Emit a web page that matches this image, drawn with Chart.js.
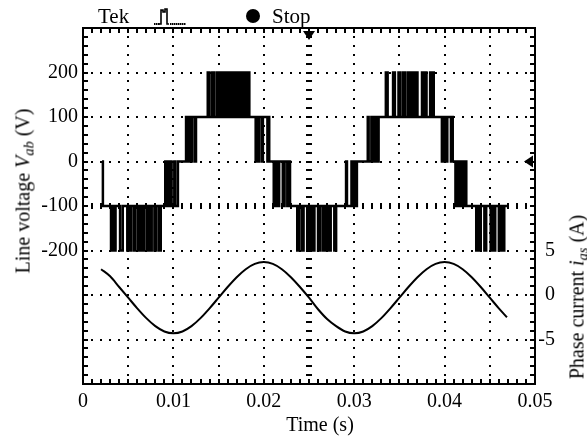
<!DOCTYPE html>
<html>
<head>
<meta charset="utf-8">
<script src="https://cdn.jsdelivr.net/npm/chart.js@4.4.1/dist/chart.umd.min.js"></script>
<style>
  html, body { margin: 0; padding: 0; background: #fff; }
  #wrap { position: relative; width: 587px; height: 445px; font-family: "Liberation Serif", "Times New Roman", serif; color: #000; }
  canvas { position: absolute; left: 0; top: 0; }
  .lbl { position: absolute; font-size: 20px; line-height: 21px; white-space: nowrap; }
  .lbl sub { font-size: 0.72em; vertical-align: -0.3em; line-height: 0; }
  .rot { transform: translate(-50%, -50%) rotate(-90deg); }
  #tek { left: 98px; top: 6px; font-size: 21px; }
  #stop { left: 272px; top: 6px; font-size: 21px; }
  #xtitle { left: 320px; top: 414px; transform: translateX(-50%); }
  #ytitle { left: 23px; top: 191px; }
  #y1title { left: 577px; top: 297px; }
</style>
</head>
<body>
<div id="wrap">
  <canvas id="chart" width="587" height="445"></canvas>
  <div class="lbl" id="tek">Tek</div>
  <div class="lbl" id="stop">Stop</div>
  <div class="lbl" id="xtitle">Time (s)</div>
  <div class="lbl rot" id="ytitle">Line voltage <i>V<sub>ab</sub></i> (V)</div>
  <div class="lbl rot" id="y1title">Phase current <i>i<sub>as</sub></i> (A)</div>
</div>
<script>
// ---------- data ----------
const timeTicks = [0, 0.01, 0.02, 0.03, 0.04, 0.05];
const timeTickLabels = ["0", "0.01", "0.02", "0.03", "0.04", "0.05"];
const voltTicks = [200, 100, 0, -100, -200];
const currTicks = [5, 0, -5];

// line voltage Vab: switching instants (s) and the level (V) held from each one
const switchT = [
  0.0021, 0.0022,
  0.0031, 0.0033, 0.0034, 0.0036, 0.0041, 0.0044, 0.0049, 0.0051, 0.0052, 0.0053,
  0.0056, 0.0058, 0.0061, 0.0063, 0.0064, 0.0066, 0.0067, 0.0068, 0.0071, 0.0073,
  0.0074, 0.0076, 0.0079, 0.0081, 0.0084, 0.0086,
  0.0091, 0.0092, 0.0093, 0.0095, 0.0096, 0.0098, 0.0101, 0.0102, 0.0105,
  0.0114, 0.0115, 0.0116, 0.0118, 0.0119, 0.0120, 0.0121, 0.0124, 0.0125,
  0.0138, 0.0140, 0.0143, 0.0145, 0.0148, 0.0150, 0.0152, 0.0154, 0.0155, 0.0157,
  0.0158, 0.0160, 0.0161, 0.0163, 0.0164, 0.0166, 0.0167, 0.0169, 0.0171, 0.0173,
  0.0175, 0.0177, 0.0179, 0.0181, 0.0183, 0.0184,
  0.0191, 0.0192, 0.0193, 0.0195, 0.0198, 0.0199, 0.0204, 0.0205, 0.0206,
  0.0211, 0.0212, 0.0213, 0.0215, 0.0216, 0.0217, 0.0221, 0.0223, 0.0226, 0.0227, 0.0229,
  0.0237, 0.0239, 0.0242, 0.0244, 0.0248, 0.0250, 0.0251, 0.0253, 0.0254, 0.0256,
  0.0260, 0.0262, 0.0265, 0.0267, 0.0268, 0.0270, 0.0272, 0.0274, 0.0278, 0.0280,
  0.0291, 0.0292, 0.0297, 0.0298, 0.0299, 0.0301, 0.0303,
  0.0315, 0.0316, 0.0319, 0.0320, 0.0321, 0.0323, 0.0324, 0.0326, 0.0327,
  0.0335, 0.0337, 0.0343, 0.0345, 0.0349, 0.0351, 0.0354, 0.0356, 0.0359, 0.0361,
  0.0362, 0.0364, 0.0365, 0.0367, 0.0368, 0.0370, 0.0375, 0.0377, 0.0378, 0.0380,
  0.0384, 0.0385, 0.0386, 0.0388,
  0.0397, 0.0398, 0.0399, 0.0401, 0.0402, 0.0403, 0.0407, 0.0408, 0.0409,
  0.0412, 0.0413, 0.0414, 0.0416, 0.0417, 0.0419, 0.0420, 0.0422, 0.0424,
  0.0435, 0.0437, 0.0438, 0.0440, 0.0444, 0.0446, 0.0451, 0.0453, 0.0454, 0.0456,
  0.0460, 0.0462, 0.0464, 0.0466, 0.0469
];
const switchV = [
  0, -100,
  -200, -100, -200, -100, -200, -100, -200, -100, -200, -100,
  -200, -100, -200, -100, -200, -100, -200, -100, -200, -100,
  -200, -100, -200, -100, -200, -100,
  0, -100, 0, -100, 0, -100, 0, -100, 0,
  100, 0, 100, 0, 100, 0, 100, 0, 100,
  200, 100, 200, 100, 200, 100, 200, 100, 200, 100,
  200, 100, 200, 100, 200, 100, 200, 100, 200, 100,
  200, 100, 200, 100, 200, 100,
  0, 100, 0, 100, 0, 100, 0, 100, 0,
  -100, 0, -100, 0, -100, 0, -100, 0, -100, 0, -100,
  -200, -100, -200, -100, -200, -100, -200, -100, -200, -100,
  -200, -100, -200, -100, -200, -100, -200, -100, -200, -100,
  0, -100, 0, -100, 0, -100, 0,
  100, 0, 100, 0, 100, 0, 100, 0, 100,
  200, 100, 200, 100, 200, 100, 200, 100, 200, 100,
  200, 100, 200, 100, 200, 100, 200, 100, 200, 100,
  200, 100, 200, 100,
  0, 100, 0, 100, 0, 100, 0, 100, 0,
  -100, 0, -100, 0, -100, 0, -100, 0, -100,
  -200, -100, -200, -100, -200, -100, -200, -100, -200, -100,
  -200, -100, -200, -100, -100
];

// phase current ias (A)
const currT = [
  0.002, 0.003, 0.004, 0.005, 0.006, 0.007, 0.008, 0.009, 0.010, 0.011,
  0.012, 0.013, 0.014, 0.015, 0.016, 0.017, 0.018, 0.019, 0.020, 0.021,
  0.022, 0.023, 0.024, 0.025, 0.026, 0.027, 0.028, 0.029, 0.030, 0.031,
  0.032, 0.033, 0.034, 0.035, 0.036, 0.037, 0.038, 0.039, 0.040, 0.041,
  0.042, 0.043, 0.044, 0.045, 0.046, 0.0469
];
const currA = [
  2.9, 2.1, 0.9, -0.3, -1.5, -2.6, -3.5, -4.1, -4.3, -4.1,
  -3.5, -2.6, -1.5, -0.3, 0.9, 2.0, 2.9, 3.5, 3.7, 3.5,
  2.9, 2.0, 0.9, -0.3, -1.6, -2.7, -3.5, -4.1, -4.3, -4.1,
  -3.5, -2.6, -1.5, -0.3, 0.9, 2.0, 2.9, 3.5, 3.7, 3.5,
  2.9, 2.0, 0.9, -0.3, -1.5, -2.5
];

// ---------- scope look ----------
const FONT = { family: "'Liberation Serif', 'Times New Roman', serif", size: 20 };
const X_DIV = 0.005, X_MINOR = 0.001;   // 10 divisions across
const Y_DIV = 100, Y_MINOR = 20;        // 8 divisions down
const TRIG_T = 0.025, CENTER_V = -100, GND_V = 0;

const scopeGrid = {
  id: "scopeGrid",
  beforeDatasetsDraw(chart) {
    const { ctx, chartArea: a, scales: { x, y } } = chart;
    ctx.save();
    ctx.fillStyle = "#000";
    const xs = [], ys = [];
    for (let t = x.min + X_MINOR; t < x.max - 1e-9; t += X_MINOR) xs.push(x.getPixelForValue(t));
    for (let v = y.min + Y_MINOR; v < y.max - 1e-9; v += Y_MINOR) ys.push(y.getPixelForValue(v));

    // dotted major lines
    for (let t = x.min + X_DIV; t < x.max - 1e-9; t += X_DIV) {
      if (Math.abs(t - TRIG_T) < 1e-9) continue;
      const px = Math.round(x.getPixelForValue(t));
      ys.forEach((py) => ctx.fillRect(px - 1, Math.round(py) - 1, 2, 2));
    }
    for (let v = y.min + Y_DIV; v < y.max - 1e-9; v += Y_DIV) {
      if (Math.abs(v - CENTER_V) < 1e-9) continue;
      const py = Math.round(y.getPixelForValue(v));
      xs.forEach((px) => ctx.fillRect(Math.round(px) - 1, py - 1, 2, 2));
    }
    // centre cross with tick dashes
    const cx = Math.round(x.getPixelForValue(TRIG_T));
    ys.forEach((py) => ctx.fillRect(cx - 3, Math.round(py) - 1, 6, 2));
    const cy = Math.round(y.getPixelForValue(CENTER_V));
    xs.forEach((px) => ctx.fillRect(Math.round(px) - 1, cy - 3, 2, 6));

    // frame and its ticks
    ctx.lineWidth = 2;
    ctx.strokeStyle = "#000";
    ctx.strokeRect(a.left, a.top, a.right - a.left, a.bottom - a.top);
    xs.forEach((px) => {
      ctx.fillRect(Math.round(px) - 1, a.top, 2, 5);
      ctx.fillRect(Math.round(px) - 1, a.bottom - 5, 2, 5);
    });
    ys.forEach((py) => {
      ctx.fillRect(a.left, Math.round(py) - 1, 5, 2);
      ctx.fillRect(a.right - 5, Math.round(py) - 1, 5, 2);
    });
    ctx.restore();
  },
  afterDatasetsDraw(chart) {
    const { ctx, chartArea: a, scales: { x, y } } = chart;
    ctx.save();
    ctx.fillStyle = "#000";
    // trigger position marker
    const tx = x.getPixelForValue(TRIG_T);
    ctx.fillRect(tx - 1, a.top, 2, 4);
    ctx.beginPath();
    ctx.moveTo(tx - 6, a.top + 3);
    ctx.lineTo(tx + 6, a.top + 3);
    ctx.lineTo(tx, a.top + 12);
    ctx.closePath();
    ctx.fill();
    // channel ground marker
    const gy = y.getPixelForValue(GND_V);
    ctx.beginPath();
    ctx.moveTo(a.right - 2, gy - 6);
    ctx.lineTo(a.right - 2, gy + 6);
    ctx.lineTo(a.right - 11, gy);
    ctx.closePath();
    ctx.fill();

    // header: acquisition icon (dotted baseline + pulse) and stop dot
    [154, 156, 158, 170, 172, 174, 176, 178, 180, 182, 184].forEach((px) => ctx.fillRect(px, 23, 1.5, 2));
    ctx.lineWidth = 1.6;
    ctx.strokeStyle = "#000";
    ctx.beginPath();
    ctx.moveTo(159, 24); ctx.lineTo(161, 24); ctx.lineTo(161, 10);
    ctx.lineTo(163, 10); ctx.lineTo(163, 12); ctx.lineTo(165, 12);
    ctx.lineTo(165, 9); ctx.lineTo(167, 9); ctx.lineTo(167, 24); ctx.lineTo(169, 24);
    ctx.stroke();
    ctx.beginPath();
    ctx.arc(253, 16, 7, 0, Math.PI * 2);
    ctx.fill();
    ctx.restore();
  },
};

// ---------- build ----------
const voltPts = switchT.map((t, i) => ({ x: t, y: switchV[i] }));
const currPts = currT.map((t, i) => ({ x: t, y: currA[i] }));

const plainAxis = {
  grid: { display: false, drawTicks: false },
  border: { display: false },
};

new Chart(document.getElementById("chart"), {
  type: "line",
  data: {
    datasets: [
      {
        label: "Vab",
        data: voltPts,
        yAxisID: "y",
        stepped: "before",
        borderColor: "#000",
        borderWidth: 2.5,
        borderJoinStyle: "miter",
        pointRadius: 0,
        fill: false,
      },
      {
        label: "ias",
        data: currPts,
        yAxisID: "y1",
        borderColor: "#000",
        borderWidth: 2,
        pointRadius: 0,
        cubicInterpolationMode: "monotone",
        fill: false,
      },
    ],
  },
  options: {
    responsive: false,
    animation: false,
    devicePixelRatio: 1,
    layout: { padding: { top: 28, right: 32, left: 0, bottom: 0 } },
    plugins: { legend: { display: false }, tooltip: { enabled: false } },
    scales: {
      x: {
        ...plainAxis,
        type: "linear",
        min: 0,
        max: 0.05,
        afterFit: (s) => { s.height = 61; },
        ticks: {
          stepSize: 0.01,
          color: "#000",
          font: FONT,
          padding: 6,
          maxRotation: 0,
          autoSkip: false,
          callback: (v) => {
            const i = timeTicks.findIndex((t) => Math.abs(t - v) < 1e-9);
            return i >= 0 ? timeTickLabels[i] : "";
          },
        },
      },
      y: {
        ...plainAxis,
        position: "left",
        min: -500,
        max: 300,
        afterFit: (s) => { s.width = 83; },
        ticks: {
          stepSize: 100,
          color: "#000",
          font: FONT,
          padding: 5,
          autoSkip: false,
          callback: (v) => (voltTicks.includes(v) ? String(v) : ""),
        },
      },
      y1: {
        ...plainAxis,
        position: "right",
        min: -10,
        max: 30,
        afterFit: (s) => { s.width = 20; },
        ticks: {
          stepSize: 5,
          color: "#000",
          font: FONT,
          padding: 3,
          crossAlign: "far",
          autoSkip: false,
          callback: (v) => (currTicks.includes(v) ? String(v) : ""),
        },
      },
    },
  },
  plugins: [scopeGrid],
});
</script>
</body>
</html>
